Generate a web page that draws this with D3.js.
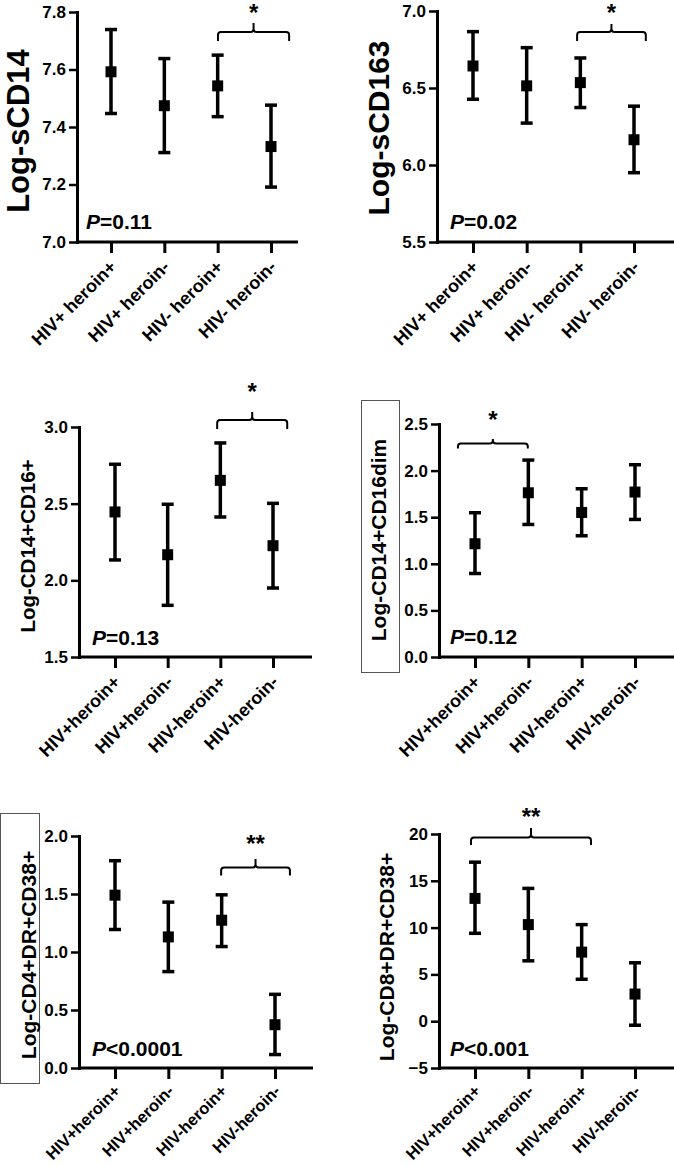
<!DOCTYPE html>
<html><head><meta charset="utf-8">
<script src="https://cdn.jsdelivr.net/npm/d3@7"></script>
<style>
body{margin:0;background:#fff}
svg{display:block}
text{font-family:"Liberation Sans",Arial,sans-serif;font-weight:bold;fill:#000}
</style>
</head><body><svg id="c" width="674" height="1166"></svg>
<script>
// ---------- data ----------
const categoriesSpaced = ["HIV+ heroin+", "HIV+ heroin-", "HIV- heroin+", "HIV- heroin-"];
const categoriesTight  = ["HIV+heroin+", "HIV+heroin-", "HIV-heroin+", "HIV-heroin-"];

const sCD14Mean  = [7.592, 7.474, 7.543, 7.332];
const sCD14Upper = [7.739, 7.638, 7.650, 7.476];
const sCD14Lower = [7.447, 7.311, 7.436, 7.191];
const sCD14Ticks = [7.0, 7.2, 7.4, 7.6, 7.8];

const sCD163Mean  = [6.643, 6.514, 6.535, 6.164];
const sCD163Upper = [6.866, 6.762, 6.695, 6.382];
const sCD163Lower = [6.427, 6.272, 6.373, 5.950];
const sCD163Ticks = [5.5, 6.0, 6.5, 7.0];

const cd16pMean  = [2.446, 2.167, 2.652, 2.226];
const cd16pUpper = [2.757, 2.496, 2.896, 2.502];
const cd16pLower = [2.133, 1.837, 2.413, 1.950];
const cd16pTicks = [1.5, 2.0, 2.5, 3.0];

const cd16dimMean  = [1.215, 1.762, 1.551, 1.770];
const cd16dimUpper = [1.548, 2.113, 1.805, 2.063];
const cd16dimLower = [0.896, 1.422, 1.301, 1.476];
const cd16dimTicks = [0.0, 0.5, 1.0, 1.5, 2.0, 2.5];

const cd4Mean  = [1.490, 1.130, 1.274, 0.373];
const cd4Upper = [1.787, 1.430, 1.493, 0.635];
const cd4Lower = [1.194, 0.831, 1.047, 0.116];
const cd4Ticks = [0.0, 0.5, 1.0, 1.5, 2.0];

const cd8Mean  = [13.12, 10.32, 7.38, 2.90];
const cd8Upper = [16.99, 14.19, 10.32, 6.24];
const cd8Lower = [9.39, 6.45, 4.48, -0.43];
const cd8Ticks = [-5, 0, 5, 10, 15, 20];

const yTitles = ["Log-sCD14", "Log-sCD163", "Log-CD14+CD16+", "Log-CD14+CD16dim", "Log-CD4+DR+CD38+", "Log-CD8+DR+CD38+"];
const pValues = ["=0.11", "=0.02", "=0.13", "=0.12", "<0.0001", "<0.001"];
const sigMarks = ["*", "*", "*", "*", "**", "**"];
// bracket extents in category-index units
const bracketFrom = [2.006, 1.94, 1.94, -0.32, 1.99, -0.075];
const bracketTo   = [3.34, 3.22, 3.27, 0.99, 3.28, 2.175];

// ---------- layout ----------
const panels = [
  {mean:sCD14Mean, up:sCD14Upper, lo:sCD14Lower, ticks:sCD14Ticks, domain:[7.0,7.8], fmt:".1f", cats:categoriesSpaced,
   axisX:77, top:12, bottom:242, x0:111, x1:271, xEnd:298, lblSize:18, lblDy:26,
   titleSize:31, titleX:28.5, titleY:131, box:null, pX:86, pY:229,
   bY:32, bDrop:9, bUp:9, starY:7.5, starSize:24},
  {mean:sCD163Mean, up:sCD163Upper, lo:sCD163Lower, ticks:sCD163Ticks, domain:[5.5,7.0], fmt:".1f", cats:categoriesSpaced,
   axisX:437, top:11, bottom:242, x0:473, x1:634, xEnd:674, lblSize:18, lblDy:26,
   titleSize:30, titleX:389, titleY:128, box:null, pX:450, pY:229,
   bY:32, bDrop:9, bUp:8, starY:7, starSize:24},
  {mean:cd16pMean, up:cd16pUpper, lo:cd16pLower, ticks:cd16pTicks, domain:[1.5,3.0], fmt:".1f", cats:categoriesTight,
   axisX:79, top:427, bottom:657, x0:115, x1:273, xEnd:312, lblSize:18, lblDy:26,
   titleSize:20.5, titleX:34.5, titleY:546, box:null, pX:92, pY:645,
   bY:420, bDrop:9, bUp:8, starY:386, starSize:24},
  {mean:cd16dimMean, up:cd16dimUpper, lo:cd16dimLower, ticks:cd16dimTicks, domain:[0,2.5], fmt:".1f", cats:categoriesTight,
   axisX:439, top:424, bottom:657, x0:475, x1:635, xEnd:674, lblSize:18, lblDy:26,
   titleSize:21, titleX:386, titleY:540, box:[361,400,38,272], pX:450, pY:644,
   bY:443.5, bDrop:5, bUp:4.5, starY:414, starSize:24},
  {mean:cd4Mean, up:cd4Upper, lo:cd4Lower, ticks:cd4Ticks, domain:[0,2.0], fmt:".1f", cats:categoriesTight,
   axisX:79, top:836, bottom:1068, x0:115, x1:275, xEnd:313, lblSize:16.5, lblDy:24,
   titleSize:21, titleX:36, titleY:955, box:[0,813,39,270], pX:92, pY:1056,
   bY:867.5, bDrop:8, bUp:8.5, starY:838, starSize:24},
  {mean:cd8Mean, up:cd8Upper, lo:cd8Lower, ticks:cd8Ticks, domain:[-5,20], fmt:"d", cats:categoriesTight,
   axisX:439, top:834, bottom:1068, x0:475, x1:635, xEnd:674, lblSize:16.5, lblDy:24,
   titleSize:21, titleX:394, titleY:957, box:null, pX:450, pY:1056,
   bY:837.5, bDrop:7.5, bUp:9.5, starY:811, starSize:24}
];

const svg = d3.select("#c");

panels.forEach((p, i) => {
  const g = svg.append("g");
  const y = d3.scaleLinear().domain(p.domain).range([p.bottom, p.top]);
  const x = d3.scaleLinear().domain([0, 3]).range([p.x0, p.x1]);

  // title box
  if (p.box) {
    g.append("rect").attr("x", p.box[0] + 0.5).attr("y", p.box[1] + 0.5)
      .attr("width", p.box[2]).attr("height", p.box[3])
      .attr("fill", "none").attr("stroke", "#555").attr("stroke-width", 1);
  }
  // y title
  g.append("text").attr("transform", `translate(${p.titleX},${p.titleY}) rotate(-90)`)
    .attr("text-anchor", "middle").style("font-size", p.titleSize + "px").text(yTitles[i]);

  // y axis
  const ya = d3.axisLeft(y).tickValues(p.ticks).tickFormat(d3.format(p.fmt))
    .tickSize(8).tickSizeOuter(0).tickPadding(3);
  const yg = g.append("g").attr("transform", `translate(${p.axisX},0)`).call(ya);
  yg.select(".domain").attr("stroke-width", 3).attr("stroke-linecap", "square");
  yg.selectAll(".tick line").attr("stroke-width", 2.5);
  yg.selectAll(".tick text").style("font-size", "17px").attr("fill", "#000");

  // x axis
  const xa = d3.axisBottom(x).tickValues([0, 1, 2, 3]).tickFormat(k => p.cats[k])
    .tickSize(11).tickSizeOuter(0);
  const xg = g.append("g").attr("transform", `translate(0,${p.bottom})`).call(xa);
  xg.select(".domain").attr("d", `M${p.axisX},0H${p.xEnd}`).attr("stroke-width", 3);
  xg.selectAll(".tick line").attr("stroke-width", 3);
  xg.selectAll(".tick text").style("font-size", p.lblSize + "px").attr("fill", "#000")
    .attr("x", null).attr("y", null).attr("dy", null)
    .attr("text-anchor", "end").attr("transform", `translate(6,${p.lblDy}) rotate(-45)`);

  // error bars
  const idx = [0, 1, 2, 3];
  const eb = g.append("g").attr("stroke", "#000").attr("stroke-width", 3.5);
  eb.selectAll(".v").data(idx).join("line")
    .attr("x1", k => x(k)).attr("x2", k => x(k))
    .attr("y1", k => y(p.up[k])).attr("y2", k => y(p.lo[k]));
  eb.selectAll(".cu").data(idx).join("line")
    .attr("x1", k => x(k) - 6).attr("x2", k => x(k) + 6)
    .attr("y1", k => y(p.up[k])).attr("y2", k => y(p.up[k]));
  eb.selectAll(".cl").data(idx).join("line")
    .attr("x1", k => x(k) - 6).attr("x2", k => x(k) + 6)
    .attr("y1", k => y(p.lo[k])).attr("y2", k => y(p.lo[k]));
  g.selectAll(".pt").data(idx).join("rect")
    .attr("x", k => x(k) - 5.5).attr("y", k => y(p.mean[k]) - 5.5)
    .attr("width", 11).attr("height", 11).attr("fill", "#000");

  // bracket
  const bx1 = x(bracketFrom[i]), bx2 = x(bracketTo[i]), bm = (bx1 + bx2) / 2;
  const r = 3;
  const path = `M${bx1},${p.bY + p.bDrop}V${p.bY + r}Q${bx1},${p.bY} ${bx1 + r},${p.bY}` +
    `H${bm - r}Q${bm},${p.bY} ${bm},${p.bY - r}V${p.bY - p.bUp}` +
    `M${bm},${p.bY - r}Q${bm},${p.bY} ${bm + r},${p.bY}H${bx2 - r}Q${bx2},${p.bY} ${bx2},${p.bY + r}V${p.bY + p.bDrop}`;
  g.append("path").attr("d", path).attr("fill", "none").attr("stroke", "#000").attr("stroke-width", 2);
  g.append("text").attr("x", bm).attr("y", p.starY + 0.58 * p.starSize)
    .attr("text-anchor", "middle").style("font-size", p.starSize + "px").text(sigMarks[i]);

  // p value
  const pt = g.append("text").attr("x", p.pX).attr("y", p.pY).style("font-size", "21px");
  pt.append("tspan").style("font-style", "italic").text("P");
  pt.append("tspan").text(pValues[i]);
});
</script>
</body></html>
